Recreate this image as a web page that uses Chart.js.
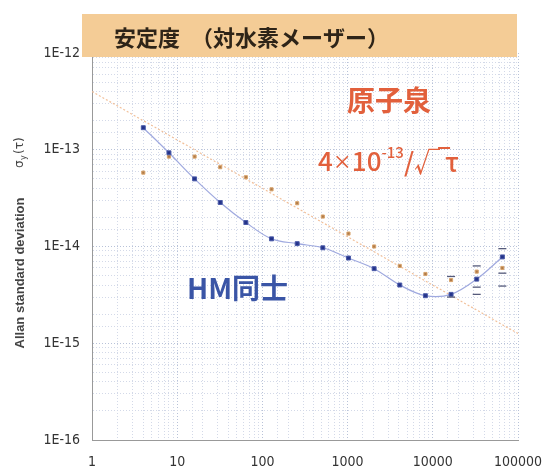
<!DOCTYPE html>
<html>
<head>
<meta charset="utf-8">
<script src="https://cdn.jsdelivr.net/npm/chart.js@4.4.1/dist/chart.umd.min.js"></script>
<style>
  html, body { margin: 0; padding: 0; background: #fff; }
  #wrap { width: 545px; height: 470px; position: relative; }
</style>
</head>
<body>
<div id="wrap"><canvas id="c"></canvas></div>
<script>
// averaging time tau (s)
const tau = [4, 8, 16, 32, 64, 128, 256, 512, 1024, 2048, 4096, 8192, 16384, 32768, 65536];
// HM vs HM (blue)
const hmValues = [1.69e-13, 9.3e-14, 5.0e-14, 2.85e-14, 1.77e-14, 1.2e-14, 1.07e-14, 9.7e-15, 7.6e-15, 5.9e-15, 4.0e-15, 3.1e-15, 3.2e-15, 4.6e-15, 7.8e-15];
// fountain vs HM (orange)
const fountainValues = [5.8e-14, 8.5e-14, 8.5e-14, 6.6e-14, 5.2e-14, 3.9e-14, 2.8e-14, 2.04e-14, 1.36e-14, 1.0e-14, 6.3e-15, 5.2e-15, 4.5e-15, 5.5e-15, 6.0e-15];
// 4e-13/sqrt(tau) reference line end points
const refTau = [1, 100000];
const refValues = [4.0e-13, 1.26e-15];
// small error bar dashes at long tau
const errTau = [16384, 16384, 32768, 32768, 32768, 65536, 65536, 65536];
const errValues = [4.9e-15, 3.0e-15, 6.3e-15, 3.8e-15, 3.2e-15, 9.5e-15, 5.3e-15, 3.9e-15];
const xTicks = [1, 10, 100, 1000, 10000, 100000];

const tickFont = { family: "'Liberation Sans Narrow', 'DejaVu Sans Condensed', sans-serif", size: 14 };

const isDecade = v => Math.abs(Math.log10(v) - Math.round(Math.log10(v))) < 1e-6;

const decor = {
  id: 'decor',
  beforeDraw(chart) {
    const ctx = chart.ctx;
    ctx.save();
    ctx.fillStyle = '#fff';
    ctx.fillRect(0, 0, chart.width, chart.height);
    ctx.restore();
  },
  afterDraw(chart) {
    const ctx = chart.ctx;
    ctx.save();
    // header band
    ctx.fillStyle = '#f4cc96';
    ctx.fillRect(82, 14, 435, 43);
    ctx.fillStyle = '#2e2418';
    ctx.font = "bold 22px 'Noto Sans CJK JP'";
    ctx.textBaseline = 'middle';
    ctx.fillText('安定度　（対水素メーザー）', 114, 38);

    // labels inside plot
    ctx.textAlign = 'center';
    ctx.fillStyle = '#e2603c';
    ctx.font = "bold 28px 'Noto Sans CJK JP'";
    ctx.fillText('原子泉', 389, 100);
    ctx.textAlign = 'left';
    let x = 318;
    ctx.font = "500 26px 'Noto Sans CJK JP'";
    ctx.fillText('4', x, 161);
    x += ctx.measureText('4').width;
    ctx.font = "500 19px 'Noto Sans CJK JP'";
    ctx.fillText('×', x, 162);
    x += ctx.measureText('×').width;
    ctx.font = "500 26px 'Noto Sans CJK JP'";
    ctx.fillText('10', x, 161);
    x += ctx.measureText('10').width;
    ctx.font = "500 15px 'Noto Sans CJK JP'";
    ctx.fillText('-13', x, 152);
    x += ctx.measureText('-13').width;
    ctx.font = "500 26px 'Noto Sans CJK JP'";
    ctx.fillText('/√', x, 162);
    x += ctx.measureText('/√').width;
    ctx.strokeStyle = '#e2603c';
    ctx.lineWidth = 2;
    ctx.beginPath();
    ctx.moveTo(x - 2, 148);
    ctx.lineTo(x + 10, 148);
    ctx.stroke();
    ctx.fillText('τ', x + 5, 162);

    ctx.fillStyle = '#3a55a6';
    ctx.font = "bold 28px 'Noto Sans CJK JP'";
    ctx.fillText('HM同士', 187, 288);

    // y axis title
    ctx.translate(20, 0);
    ctx.rotate(-Math.PI / 2);
    ctx.fillStyle = '#444';
    ctx.textAlign = 'center';
    ctx.font = "bold 13px 'Liberation Sans', sans-serif";
    ctx.fillText('Allan standard deviation', -273, 0);
    ctx.textAlign = 'left';
    ctx.font = "12px 'DejaVu Sans', sans-serif";
    ctx.fillText('σ', -168, 0);
    ctx.font = "8px 'DejaVu Sans', sans-serif";
    ctx.fillText('y', -160, 4);
    ctx.font = "12px 'DejaVu Sans', sans-serif";
    ctx.fillText('(τ)', -154, 0);
    ctx.restore();
  }
};

new Chart(document.getElementById('c'), {
  type: 'line',
  data: {
    datasets: [
      {
        label: 'HM',
        data: tau.map((t, i) => ({ x: t, y: hmValues[i] })),
        borderColor: '#9fa9df',
        borderWidth: 1.2,
        tension: 0.35,
        pointStyle: 'rect',
        pointRadius: 2.8,
        pointBackgroundColor: '#24338a',
        pointBorderColor: '#4a5aa8',
        pointBorderWidth: 1,
        order: 1
      },
      {
        label: 'fountain',
        data: tau.map((t, i) => ({ x: t, y: fountainValues[i] })),
        showLine: false,
        pointStyle: 'rect',
        pointRadius: 2.2,
        pointBackgroundColor: '#b07a48',
        pointBorderColor: '#d8a46c',
        pointBorderWidth: 1,
        order: 2
      },
      {
        label: 'ref',
        data: refTau.map((t, i) => ({ x: t, y: refValues[i] })),
        borderColor: '#f2c09a',
        borderWidth: 1.2,
        borderDash: [2, 2],
        pointRadius: 0,
        order: 3
      },
      {
        label: 'err',
        data: errTau.map((t, i) => ({ x: t, y: errValues[i] })),
        showLine: false,
        pointStyle: 'line',
        pointRadius: 4,
        pointBorderColor: '#555a7a',
        pointBorderWidth: 1.3,
        order: 0
      }
    ]
  },
  options: {
    responsive: true,
    maintainAspectRatio: false,
    animation: false,
    layout: { padding: { left: 0, right: 27, top: 53, bottom: 0 } },
    plugins: { legend: { display: false }, tooltip: { enabled: false } },
    scales: {
      x: {
        type: 'logarithmic',
        min: 1,
        max: 100000,
        afterFit: s => { s.height = 30; s.paddingLeft = 0; s.paddingRight = 0; },
        grid: {
          drawTicks: false,
          color: ctx => (ctx.tick && isDecade(ctx.tick.value)) ? '#b8c2d8' : '#d3d9e8',
          lineWidth: 1
        },
        border: { display: true, color: '#999', dash: [1, 2] },
        ticks: {
          padding: 14,
          color: '#333',
          font: tickFont,
          autoSkip: false,
          maxRotation: 0,
          callback: v => xTicks.includes(v) ? String(v) : ''
        }
      },
      y: {
        type: 'logarithmic',
        min: 1e-16,
        max: 1e-12,
        afterFit: s => { s.width = 92; s.paddingTop = 0; s.paddingBottom = 0; },
        grid: {
          drawTicks: false,
          color: ctx => (ctx.tick && isDecade(ctx.tick.value)) ? '#b8c2d8' : '#d3d9e8',
          lineWidth: 1
        },
        border: { display: true, color: '#999', dash: [1, 2] },
        ticks: {
          padding: 12,
          color: '#333',
          font: tickFont,
          autoSkip: false,
          callback: v => isDecade(v) ? '1E' + Math.round(Math.log10(v)) : ''
        }
      }
    }
  },
  plugins: [decor]
});
</script>
</body>
</html>
